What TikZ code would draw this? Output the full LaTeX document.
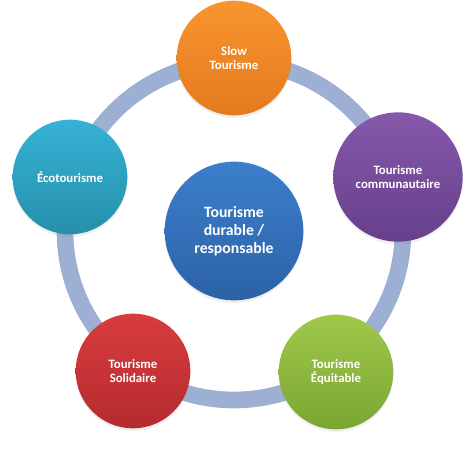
\documentclass[tikz,border=0pt]{standalone}
\usepackage{fontspec}
\setmainfont{Carlito}
\usepackage{tikz}
\usetikzlibrary{shadows}
\definecolor{ringblue}{HTML}{9DAFD2}
\definecolor{orangetop}{HTML}{F8952F}
\definecolor{orangebot}{HTML}{E47A1E}
\definecolor{purpletop}{HTML}{8658AA}
\definecolor{purplebot}{HTML}{66408C}
\definecolor{tealtop}{HTML}{36B2D6}
\definecolor{tealbot}{HTML}{2590AA}
\definecolor{bluetop}{HTML}{3C7FCC}
\definecolor{bluebot}{HTML}{2C62A6}
\definecolor{redtop}{HTML}{D83C3E}
\definecolor{redbot}{HTML}{B52B2F}
\definecolor{greentop}{HTML}{A0C94A}
\definecolor{greenbot}{HTML}{7AA532}

\begin{document}
\begin{tikzpicture}[x=0.75pt,y=-0.75pt,
 bubble/.style={circle,minimum size=86pt,inner sep=0pt,align=center,text=white,
  font=\fontsize{9.6}{11}\selectfont\bfseries,
  drop shadow={opacity=0.12,shadow xshift=0pt,shadow yshift=-2pt}},
 ring/.style={draw=ringblue,line width=12.5pt}]
 \useasboundingbox (0,0) rectangle (474,452);
 \node[bubble,minimum size=104pt,top color=bluetop,bottom color=bluebot,
  font=\fontsize{11.8}{13.4}\selectfont\bfseries] (hub) at (234,231) {Tourisme\\durable /\\responsable};
 \draw[ring] (hub.center) circle[radius=169];
 \node[bubble,top color=orangetop,bottom color=orangebot] (slow) at (234,58) {Slow\\Tourisme};
 \node[bubble,minimum size=97pt,top color=purpletop,bottom color=purplebot] (commu) at (398,177) {Tourisme\\communautaire};
 \node[bubble,top color=tealtop,bottom color=tealbot] (eco) at (70,177) {Écotourisme};
 \node[bubble,top color=redtop,bottom color=redbot] (solid) at (133,371) {Tourisme\\Solidaire};
 \node[bubble,top color=greentop,bottom color=greenbot] (equit) at (336,372) {Tourisme\\Équitable};
\end{tikzpicture}
\end{document}
